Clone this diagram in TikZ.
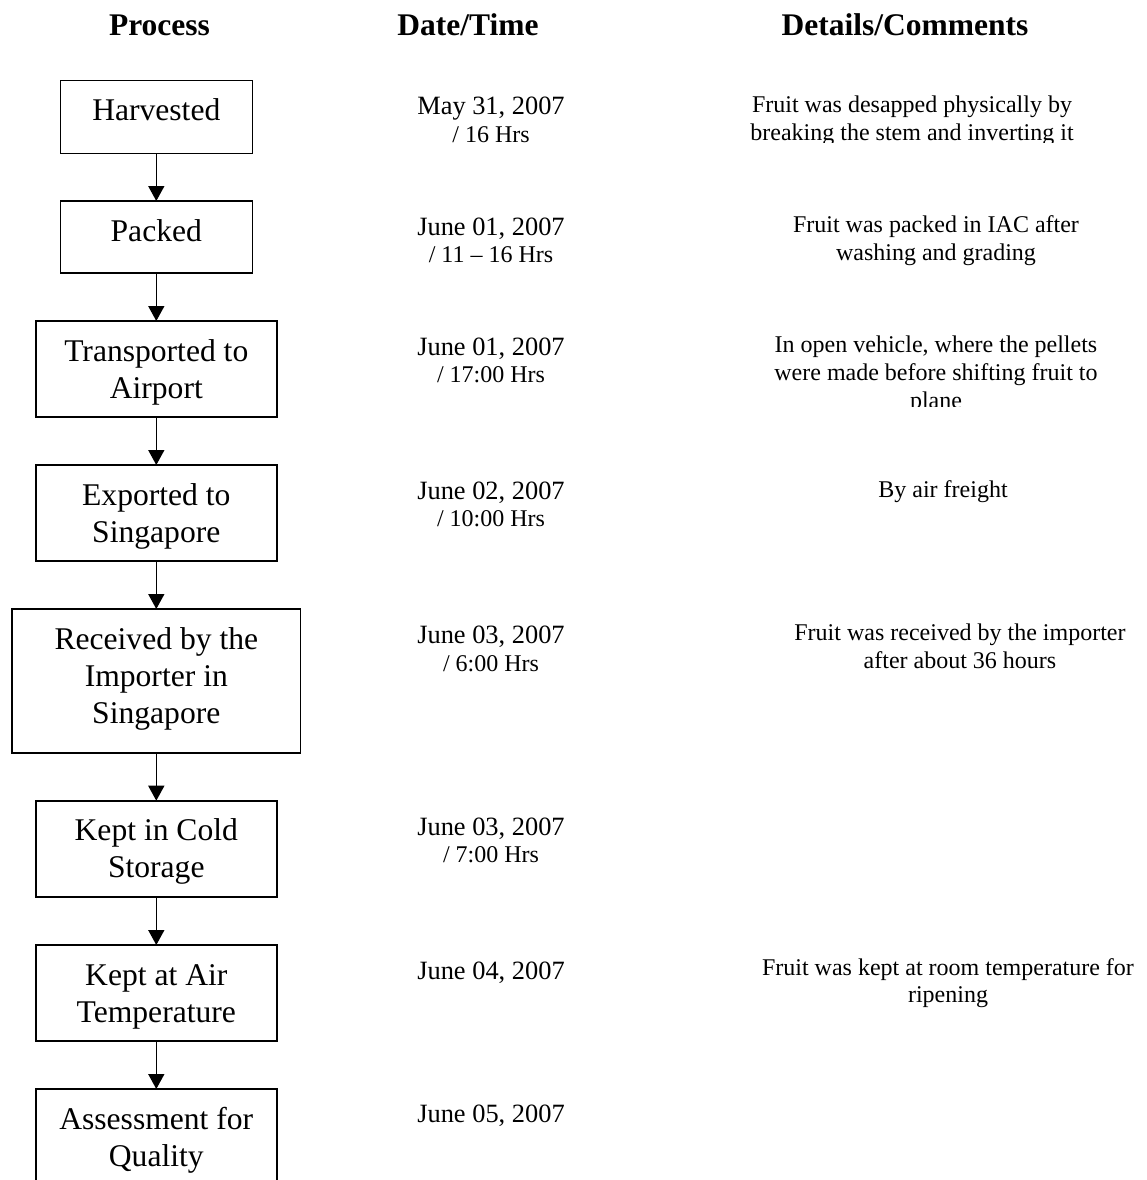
\documentclass[tikz,border=0pt]{standalone}
\usepackage{fontspec}
\setmainfont{Liberation Serif}
\usetikzlibrary{arrows.meta}

% box text: fixed-size box, text hung from the top edge
\newcommand\stagetext[3]{\parbox[c][#1][t]{#2}{\centering\fontsize{31.6}{37}\selectfont\rule{0pt}{40pt}#3}}
% date with a smaller time line below it
\newcommand\datetext[2]{\parbox[t]{220pt}{\centering\fontsize{26.4}{27.7}\selectfont #1\\\fontsize{24}{27.7}\selectfont #2}}
% comment text, centred lines
\newcommand\notetext[1]{\parbox[t]{420pt}{\centering\fontsize{24}{27.7}\selectfont #1}}

\begin{document}
\begin{tikzpicture}[x=1pt,y=-1pt,
  stage/.style={draw, line width=1.6pt, inner sep=0pt, outer sep=0pt, anchor=north},
  link/.style={line width=1.6pt, -{Triangle[width=16pt,length=15pt]}},
  head/.style={anchor=base, inner sep=0pt, font=\fontsize{31.5}{37}\selectfont\bfseries},
  note/.style={anchor=base, inner sep=0pt},
  day/.style={anchor=base, inner sep=0pt, font=\fontsize{26.4}{27.7}\selectfont}]

\useasboundingbox (0,0) rectangle (1147,1180);
\clip (0,0) rectangle (1147,1180);

% column headings
\node[head] (hproc) at (159.5,36) {Process};
\node[head] (hdate) at (468,36) {Date/Time};
\node[head] (hnote) at (905,36) {Details/Comments};

% process chain
\node[stage] (s1) at (156.3,80.7) {\stagetext{72.6pt}{192pt}{Harvested}};
\node[stage] (s2) at (156.3,201) {\stagetext{72pt}{192pt}{Packed}};
\node[stage] (s3) at (156.3,321) {\stagetext{95.7pt}{241pt}{Transported to\\Airport}};
\node[stage] (s4) at (156.3,465) {\stagetext{96pt}{241pt}{Exported to\\Singapore}};
\node[stage] (s5) at (156.3,609) {\stagetext{143.7pt}{288.7pt}{Received by the\\Importer in\\Singapore}};
\node[stage] (s6) at (156.3,800.7) {\stagetext{96pt}{241pt}{Kept in Cold\\Storage}};
\node[stage] (s7) at (156.3,945) {\stagetext{95.7pt}{241pt}{Kept at Air\\Temperature}};
\node[stage] (s8) at (156.3,1089) {\stagetext{96pt}{241pt}{Assessment for\\Quality}};

\draw[link] (s1.south) -- (s2.north);
\draw[link] (s2.south) -- (s3.north);
\draw[link] (s3.south) -- (s4.north);
\draw[link] (s4.south) -- (s5.north);
\draw[link] (s5.south) -- (s6.north);
\draw[link] (s6.south) -- (s7.north);
\draw[link] (s7.south) -- (s8.north);

% dates and times
\node[note] (d1) at (491,115) {\datetext{May 31, 2007}{/ 16 Hrs}};
\node[note] (d2) at (491,235) {\datetext{June 01, 2007}{/ 11 -- 16 Hrs}};
\node[note] (d3) at (491,355) {\datetext{June 01, 2007}{/ 17:00 Hrs}};
\node[note] (d4) at (491,499) {\datetext{June 02, 2007}{/ 10:00 Hrs}};
\node[note] (d5) at (491,643.3) {\datetext{June 03, 2007}{/ 6:00 Hrs}};
\node[note] (d6) at (491,835) {\datetext{June 03, 2007}{/ 7:00 Hrs}};
\node[day] (d7) at (491,979.3) {June 04, 2007};
\node[day] (d8) at (491,1122) {June 05, 2007};

% comments
\begin{scope}
  \clip (700,0) rectangle (1147,142.5);
  \node[note] (c1) at (912,112.3) {\notetext{Fruit was desapped physically by\\breaking the stem and inverting it}};
\end{scope}
\node[note] (c2) at (936,232.3) {\notetext{Fruit was packed in IAC after\\washing and grading}};
\begin{scope}
  \clip (700,300) rectangle (1147,406);
  \node[note] (c3) at (936,352.7) {\notetext{In open vehicle, where the pellets\\were made before shifting fruit to\\plane}};
\end{scope}
\node[note] (c4) at (943,497) {\notetext{By air freight}};
\node[note] (c5) at (960,640.7) {\notetext{Fruit was received by the importer\\after about 36 hours}};
\node[note] (c6) at (948,975) {\notetext{Fruit was kept at room temperature for\\ripening}};

\end{tikzpicture}
\end{document}
